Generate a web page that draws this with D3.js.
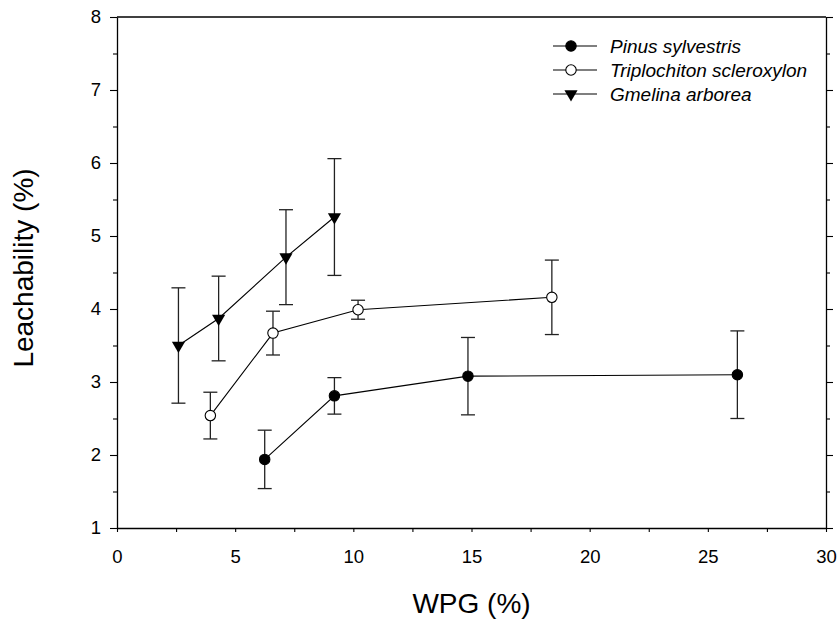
<!DOCTYPE html>
<html><head><meta charset="utf-8">
<script src="https://cdn.jsdelivr.net/npm/d3@7"></script>
<style>body{margin:0;background:#fff}svg{display:block}text{font-family:"Liberation Sans",Arial,sans-serif}</style>
</head><body><svg id="c" width="838" height="621"></svg>
<script>
const seriesNames = ["Pinus sylvestris","Triplochiton scleroxylon","Gmelina arborea"];
const pinusX = [6.25, 9.2, 14.85, 26.25];
const pinusY = [1.94, 2.81, 3.08, 3.10];
const pinusErr = [0.40, 0.25, 0.53, 0.60];
const triploX = [3.95, 6.6, 10.2, 18.4];
const triploY = [2.54, 3.67, 3.99, 4.16];
const triploErr = [0.32, 0.30, 0.13, 0.51];
const gmelinaX = [2.6, 4.3, 7.15, 9.2];
const gmelinaY = [3.50, 3.87, 4.71, 5.26];
const gmelinaErr = [0.79, 0.58, 0.65, 0.80];
const xTicks = [0,5,10,15,20,25,30];
const yTicks = [1,2,3,4,5,6,7,8];

const svg = d3.select("#c");
const L=117, R=826, T=17, B=528;
const x = d3.scaleLinear().domain([0,30]).range([L,R]);
const y = d3.scaleLinear().domain([1,8]).range([B,T]);

const series = [
  {name:seriesNames[0], xs:pinusX, ys:pinusY, es:pinusErr, sym:"circle", fill:"#000"},
  {name:seriesNames[1], xs:triploX, ys:triploY, es:triploErr, sym:"circle", fill:"#fff"},
  {name:seriesNames[2], xs:gmelinaX, ys:gmelinaY, es:gmelinaErr, sym:"tri", fill:"#000"}
];
const fmt = d3.format("d");

// axes
const xAxis = d3.axisBottom(x).tickValues(xTicks).tickFormat(fmt).tickSize(4).tickSizeOuter(0).tickPadding(18);
const xMinor = d3.axisBottom(x).tickValues(d3.range(2.5,30,5)).tickSize(4).tickFormat("");
const gx = svg.append("g").attr("transform",`translate(0,${B})`).call(xAxis);
svg.append("g").attr("transform",`translate(0,${B})`).call(xMinor).select(".domain").remove();
gx.selectAll("text").style("font-size","18.5px").attr("dy","0.71em").attr("fill","#000");

const yAxis = d3.axisLeft(y).tickValues(yTicks).tickFormat(fmt).tickSize(7).tickSizeOuter(0).tickPadding(9);
const yMinor = d3.axisLeft(y).tickValues(d3.range(1.5,8,1)).tickSize(4).tickFormat("");
const gy = svg.append("g").attr("transform",`translate(${L},0)`).call(yAxis);
svg.append("g").attr("transform",`translate(${L},0)`).call(yMinor).select(".domain").remove();
gy.selectAll("text").style("font-size","18.5px").attr("fill","#000");

const yR = d3.axisRight(y).tickValues(yTicks).tickSize(7).tickSizeOuter(0).tickFormat("");
const yRMinor = d3.axisRight(y).tickValues(d3.range(1.5,8,1)).tickSize(4).tickFormat("");
svg.append("g").attr("transform",`translate(${R},0)`).call(yR);
svg.append("g").attr("transform",`translate(${R},0)`).call(yRMinor).select(".domain").remove();
svg.append("line").attr("x1",L).attr("x2",R).attr("y1",T).attr("y2",T).attr("stroke","#000").attr("stroke-width",1.3);
svg.selectAll(".domain").attr("stroke-width",1.3);
svg.selectAll(".tick line").attr("stroke","#000").attr("stroke-width",1.1);

// titles
svg.append("text").attr("x",(L+R)/2).attr("y",613).attr("text-anchor","middle").style("font-size","28px").text("WPG (%)");
svg.append("text").attr("transform",`translate(33,268) rotate(-90)`).attr("text-anchor","middle").style("font-size","28px").text("Leachability (%)");

function drawMarker(g, s, cx, cy){
  if(s.sym==="circle"){
    g.append("circle").attr("cx",cx).attr("cy",cy).attr("r",5.2).attr("fill",s.fill).attr("stroke","#000").attr("stroke-width",1.1);
  } else {
    const t = d3.symbol().type(d3.symbolTriangle).size(75)();
    g.append("path").attr("d",t).attr("transform",`translate(${cx},${cy}) rotate(180)`).attr("fill","#000");
  }
}

const line = d3.line();
series.forEach(s=>{
  const g = svg.append("g");
  const pts = s.xs.map((v,i)=>[x(v), y(s.ys[i])]);
  s.xs.forEach((v,i)=>{
    const cx=x(v), t=y(s.ys[i]+s.es[i]), b=y(s.ys[i]-s.es[i]);
    g.append("line").attr("x1",cx).attr("x2",cx).attr("y1",t).attr("y2",b).attr("stroke","#222").attr("stroke-width",1.3);
    g.append("line").attr("x1",cx-7).attr("x2",cx+7).attr("y1",t).attr("y2",t).attr("stroke","#222").attr("stroke-width",1.3);
    g.append("line").attr("x1",cx-7).attr("x2",cx+7).attr("y1",b).attr("y2",b).attr("stroke","#222").attr("stroke-width",1.3);
  });
  g.append("path").attr("d",line(pts)).attr("fill","none").attr("stroke","#000").attr("stroke-width",1.1);
  pts.forEach(p=>drawMarker(g,s,p[0],p[1]));
});

// legend
series.forEach((s,i)=>{
  const ly = 46 + i*24;
  const g = svg.append("g");
  g.append("line").attr("x1",553).attr("x2",597).attr("y1",ly).attr("y2",ly).attr("stroke","#000").attr("stroke-width",1.1);
  drawMarker(g,s,571,ly);
  g.append("text").attr("x",610).attr("y",ly+7).style("font-size","19px").attr("font-style","italic").text(s.name);
});
</script></body></html>
